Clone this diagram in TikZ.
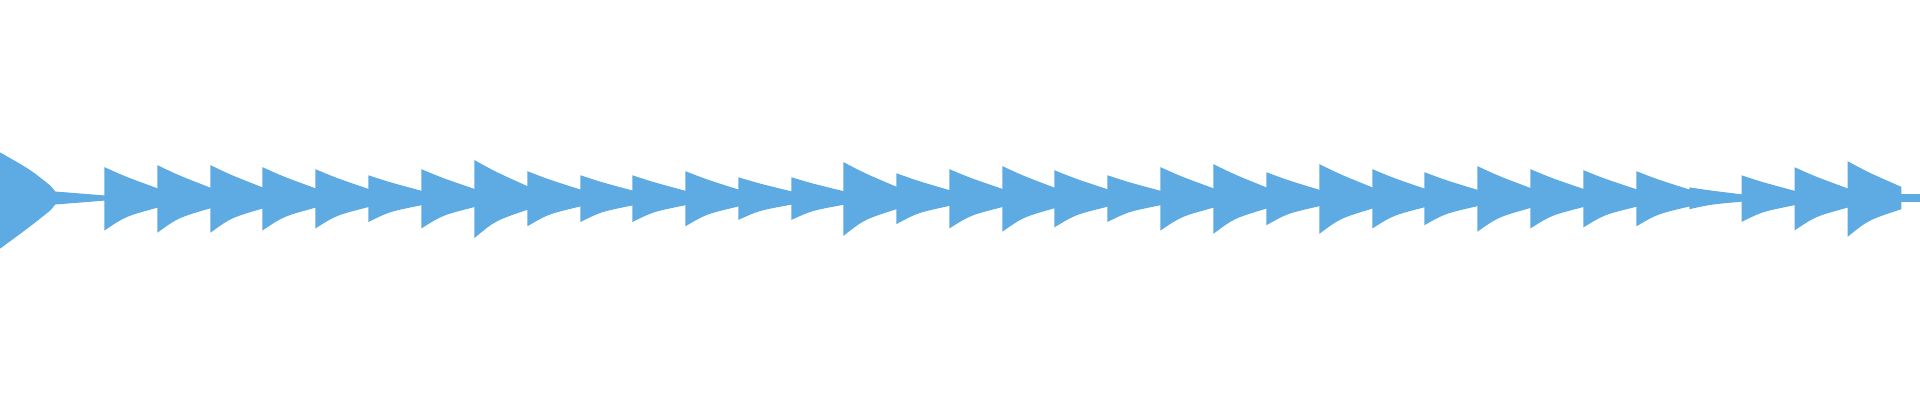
\documentclass[tikz,border=0pt]{standalone}
\usepackage{tikz}
\definecolor{wave}{RGB}{93,171,226}
\tikzset{note/.style={fill=wave, draw=wave, line width=0.3pt}}
\begin{document}
\begin{tikzpicture}
    \useasboundingbox (0,0) rectangle (19.2,4);
    % first (long) note
    \fill[note] (0,2.02+0.45) .. controls (0.3,2.3) .. (0.5,2.14) -- (0.55,2.08) -- (1.05,2.04) -- (1.05,2.0)
        -- (0.55,1.96) -- (0.5,1.9) .. controls (0.3,1.74) .. (0,2.02-0.5) -- cycle;
    % remaining notes
    \foreach \x/\a in {1.05/0.30, 1.58/0.32, 2.11/0.32, 2.63/0.30, 3.16/0.28, 3.69/0.22, 4.22/0.28, 4.75/0.37,
        5.28/0.26, 5.81/0.22, 6.33/0.22, 6.86/0.26, 7.39/0.20, 7.92/0.20, 8.44/0.35, 8.97/0.24,
        9.50/0.28, 10.03/0.31, 10.55/0.27, 11.08/0.22, 11.61/0.30, 12.14/0.33, 12.67/0.25, 13.20/0.33,
        13.73/0.28, 14.25/0.25, 14.78/0.31, 15.31/0.28, 15.84/0.27, 16.37/0.26, 16.90/0.10, 17.42/0.22,
        17.95/0.30, 18.48/0.36}
    {
        \fill[note] (\x,2.02+\a) .. controls (\x+0.2,2.02+0.7*\a) .. (\x+0.528,2.02+0.3*\a)
            -- (\x+0.528,2.02-0.3*\a) .. controls (\x+0.2,2.02-0.6*\a) .. (\x,2.02-1.05*\a) -- cycle;
    }
    % tail
    \fill[note] (19.008,2.05) -- (19.2,2.05) -- (19.2,1.99) -- (19.008,1.99) -- cycle;
\end{tikzpicture}
\end{document}
